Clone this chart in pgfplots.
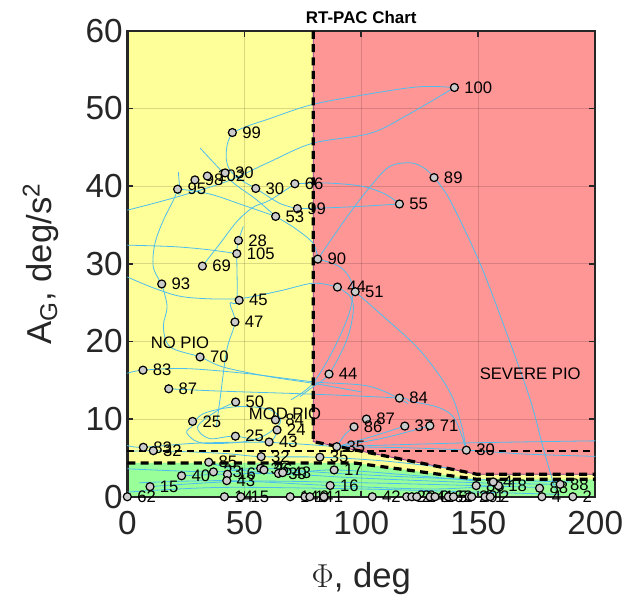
\documentclass[border=0pt]{standalone}
\usepackage{pgfplots}
\pgfplotsset{compat=1.18}
\usepackage{pgfplotstable}
\usepackage{fontspec}
\setmainfont{Liberation Sans}
\definecolor{pyel}{RGB}{255,255,153}
\definecolor{pred}{RGB}{255,150,150}
\definecolor{pgrn}{RGB}{153,255,153}
\definecolor{trajcol}{RGB}{77,190,238}
\definecolor{pedge}{RGB}{126,47,142}
\definecolor{axc}{RGB}{38,38,38}
\definecolor{mk}{RGB}{204,204,204}

\pgfplotstableread{
x y lab
139.8 52.7 100
44.9 46.9 99
131.1 41.1 89
21.5 39.6 95
28.9 40.8 98
34.2 41.3 102
41.8 41.7 30
54.9 39.7 30
71.6 40.3 66
116.3 37.7 55
72.7 37.1 99
63.4 36.1 53
47.5 33.0 28
46.8 31.3 105
32.1 29.7 69
81.4 30.6 90
14.7 27.4 93
89.8 27.0 44
97.4 26.4 51
47.8 25.3 45
46.0 22.5 47
31.1 18.0 70
6.7 16.3 83
86.2 15.8 44
17.7 13.9 87
116.3 12.7 84
46.3 12.2 50
27.9 9.7 25
63.3 9.9 84
64.0 8.6 24
102.2 10.0 87
96.9 9.0 86
118.6 9.1 37
129.3 9.15 71
46.2 7.8 25
60.6 7.05 43
6.85 6.37 83
11.1 5.93 32
89.5 6.45 35
144.9 6.0 30
57.2 5.16 32
82.3 5.1 35
34.8 4.45 85
36.8 3.2 23
42.8 2.9 16
42.5 2.07 43
23.2 2.7 40
9.7 1.3 15
57.0 3.66 36
58.4 3.45 36
64.6 3.0 39
66.4 3.1 43
88.4 3.45 17
86.7 1.45 16
149.1 1.43 85
158.6 1.43 18
156.4 1.9 4
176.2 1.1 88
185.0 1.6 88
0 0 62
41.5 0 14
48.5 0 15
69.6 0 14
75.9 0 14
78.0 0 0
84.0 0 1
104.7 0 42
119.4 0 2
121.6 0 2
123.7 0 24
129.4 0 0
131.5 0 16
137.2 0 5
139.4 0 2
146.1 0 29
147.2 0 4
152.9 0 1
155.1 0 2
177.2 0 4
190.4 0 2
}\pts

\begin{document}
\begin{tikzpicture}
\begin{axis}[
  at={(0pt,0pt)}, anchor=south west,
  width=351pt, height=349.5pt, scale only axis,
  xmin=0, xmax=200, ymin=0, ymax=60,
  xtick={0,50,100,150,200}, ytick={0,10,20,30,40,50,60},
  xtick pos=both, ytick pos=both,
  tick align=inside, major tick length=4.5pt,
  clip=false, set layers,
  grid=major, grid style={black, opacity=0.15, line width=0.8pt},
  axis line style={axc, line width=1.8pt},
  tick style={axc, line width=1.2pt},
  tick label style={font=\fontsize{25}{25}\selectfont, text=axc},
  xticklabel style={yshift=-7.6pt},
  /pgf/number format/assume math mode=true,
  trj/.style={trajcol, line width=0.6pt, smooth, tension=0.55, no marks},
]
% regions
\addplot[fill=pyel, draw=none, on layer=axis background] coordinates {(0,0) (200,0) (200,60) (0,60)};
\addplot[fill=pred, draw=none, on layer=axis background] coordinates {(79.5,60) (200,60) (200,2.9) (149.4,2.9) (79.5,7.1)};
\addplot[fill=pgrn, draw=none, on layer=axis background] coordinates {(0,0) (200,0) (200,2.25) (149.4,2.25) (97,4.35) (0,4.35)};
\addplot[pedge, line width=0.6pt, no marks] coordinates {(79.5,60) (79.5,7.1) (149.4,2.9) (200,2.9)};

% trajectories
\addplot[trj] coordinates {(44.9,46.9) (52,47.8) (60,48.6) (79,50.5) (104,51.9) (125,52.8) (139.8,52.7)};
\addplot[trj] coordinates {(139.8,52.7) (120,49.2) (103.8,46.8) (79,45.5) (60,43) (42.5,40.6) (20,38.5) (0,36.9)};
\addplot[trj] coordinates {(44.9,46.9) (42.8,45.5) (42.3,43.5) (44,42) (49,40.7) (54.9,39.7) (65,37.8) (72.7,37.1)};
\addplot[trj] coordinates {(31.1,44.9) (37,43) (45,40.5) (55,38.3) (63.4,36.1)};
\addplot[trj] coordinates {(21.8,41.8) (22.5,39) (21.5,39.6) (35,39) (50,37.5) (63.4,36.1)};
\addplot[trj] coordinates {(71.6,40.3) (85,40.4) (100,40) (110,39) (116.3,37.7)};
\addplot[trj] coordinates {(116.3,37.7) (100,37.4) (85,37.2) (72.7,37.1)};
\addplot[trj] coordinates {(0,32.4) (20,32.2) (35,31.8) (46.8,31.3)};
\addplot[trj] coordinates {(14.7,27.4) (11.1,29.6) (11.8,32.6) (15.4,35.6) (19.7,38.2) (21.5,39.6)};
\addplot[trj] coordinates {(0,28.3) (12,26.8) (25,25.7) (47,25.5) (65,26.5) (79.5,27.5) (89.8,27)};
\addplot[trj] coordinates {(89.8,27) (95.2,25.8) (96.6,24) (93.8,20.2) (86.2,15.8) (79.5,14.2) (73.8,12.9)};
\addplot[trj] coordinates {(81.4,30.6) (90.9,29.6) (95.9,27.5) (95.2,24) (88,18.9) (79,14.5) (70,12.5)};
\addplot[trj] coordinates {(97.4,26.4) (109.5,23.2) (123.7,19.3) (133.7,15.5) (139.4,12.5) (143,9) (144.9,6.0)};
\addplot[trj] coordinates {(131.1,41.1) (137.9,38.2) (150.8,30) (162.2,21) (172.2,12.5) (178,6) (183,0.8)};
\addplot[trj] coordinates {(81.4,30.6) (88,33.5) (95,36.5) (104,40) (112,42.5) (121,43) (127,42.3) (131.1,41.1)};
\addplot[trj] coordinates {(63.4,36.1) (72,34.5) (79.5,32.6) (81.4,30.6)};
\addplot[trj] coordinates {(49.6,34.8) (47.5,33) (46.8,31.3) (46.8,25.3) (43.9,24.9) (46,22.5) (42.5,18.9) (39.6,12.5) (38,9)};
\addplot[trj] coordinates {(32.1,29.7) (39.6,32.6) (47,35.5) (53.9,37.3) (61,38.2) (71.6,40.3)};
\addplot[trj] coordinates {(14.7,27.4) (17,24.5) (15.4,21.9) (18.3,19.3) (31.1,18) (41,16.7) (60,15.5) (79.5,14.6) (100,13.5)};
\addplot[trj] coordinates {(0,15.9) (6.7,16.3) (25,16.5) (50,15.9) (79.5,14.8) (103.8,14.2) (120,12)};
\addplot[trj] coordinates {(17.7,13.9) (40,13.6) (80,13.2) (116.3,12.7) (121,12.3) (133,11.5) (140,10) (144.9,6)};
\addplot[trj] coordinates {(27.5,9.0) (32.5,10.7) (46.8,11.6) (61,11.2) (65.3,9.5) (53.9,7.3) (32.5,6.9) (25.4,8.2) (27.5,9.0)};
\addplot[trj] coordinates {(46.3,12.2) (38,11) (30,9) (35,7.5) (46.2,7.8) (60.6,7.05) (64,8.6)};
\addplot[trj] coordinates {(0,6.6) (6.85,6.37) (30,6.9) (60,7.0) (89.5,6.45)};
\addplot[trj] coordinates {(0,5.8) (11.1,5.93) (40,5.6) (57.2,5.16) (82.3,5.1) (110,4.6) (140,3.6)};
\addplot[trj] coordinates {(89.5,6.45) (93,8) (96.9,9.0)};
\addplot[trj] coordinates {(89.5,6.45) (105,7.8) (118.6,9.1)};
\addplot[trj] coordinates {(89.5,6.45) (110,7.6) (129.3,9.15)};
\addplot[trj] coordinates {(89.5,6.45) (140,6.9) (200,7.2)};
\addplot[trj] coordinates {(89.5,6.45) (120,6.3) (144.9,6.0) (170,5.5) (200,5.2)};
\addplot[trj] coordinates {(0,0.6) (40,1.2) (100,1.0) (150,0.6) (185,0.3)};
\addplot[trj] coordinates {(9.7,1.3) (50,2.0) (100,1.8) (149.1,1.43) (175,1.2)};
\addplot[trj] coordinates {(23.2,2.7) (60,3.0) (100,2.4) (150,1.8) (185,1.6)};
\addplot[trj] coordinates {(34.8,4.45) (45,3.6) (64.6,3.0) (88.4,3.45) (120,2.8) (150,2.0)};
\addplot[trj] coordinates {(5,1.8) (42.5,2.07) (86.7,1.45) (130,1.0) (158.6,1.43)};
\addplot[trj] coordinates {(0,3.6) (36.8,3.2) (57,3.66) (90,3.0) (140,2.3) (190,1.9)};

% boundaries
\addplot[black, line width=1.6pt, dash pattern=on 5pt off 4pt, no marks] coordinates {(0,5.9) (200,5.9)};
\addplot[black, line width=2.4pt, dash pattern=on 6pt off 4pt, no marks] coordinates {(79.5,60) (79.5,7.1) (149.4,2.9) (200,2.9)};
\addplot[black, line width=2.4pt, dash pattern=on 6pt off 4pt, no marks] coordinates {(0,4.35) (97,4.35) (149.4,2.25) (200,2.25)};

% points
\addplot[only marks, mark=*, mark size=3pt,
  mark options={fill=mk, draw=black, line width=0.9pt},
  point meta=explicit symbolic, nodes near coords,
  nodes near coords align={anchor=west},
  every node near coord/.append style={xshift=7pt, inner sep=0pt, text=black, font=\fontsize{12.5}{13}\selectfont}]
  table[x=x, y=y, meta=lab] {\pts};

\node[font=\fontsize{12.5}{13}\selectfont, text=black] at (axis cs:22.5,19.8) {NO PIO};
\node[font=\fontsize{12.5}{13}\selectfont, text=black] at (axis cs:67.4,10.7) {MOD PIO};
\node[font=\fontsize{12.5}{13}\selectfont, text=black] at (axis cs:172.2,15.9) {SEVERE PIO};
\end{axis}
\node[anchor=base, font=\bfseries\fontsize{12.7}{13}\selectfont, text=black] at (175.5pt,355.2pt) {RT-PAC Chart};
\node[anchor=base, font=\fontsize{26}{26}\selectfont, text=axc] at (175.5pt,-67.7pt) {$\Phi$, deg};
\node[anchor=base, rotate=90, font=\fontsize{26}{26}\selectfont, text=axc] at (-56.7pt,174.75pt) {A\textsubscript{G}, deg/s\textsuperscript{2}};
\pgfresetboundingbox
\path[use as bounding box] (-95.5pt,-74.4pt) rectangle (373.3pt,372.6pt);
\end{tikzpicture}
\end{document}
